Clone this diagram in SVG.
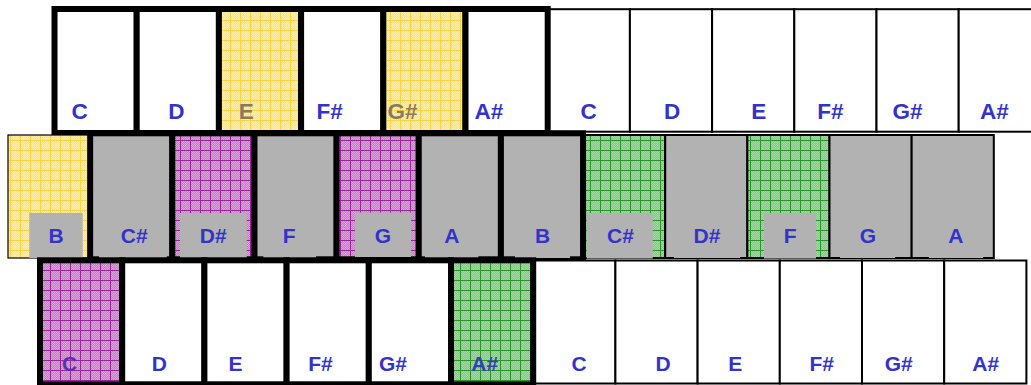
<svg xmlns="http://www.w3.org/2000/svg" width="1031" height="385" viewBox="0 0 1031 385">
<style>
.thk{stroke:#000;stroke-width:6}
.thn{stroke:#000;stroke-width:2}
.w{fill:#fff}
.g{fill:#b2b2b2}
.y{fill:url(#pY)}
.p{fill:url(#pP)}
.gr{fill:url(#pG)}
.lb{fill:#b2b2b2}
.t{font-family:"Liberation Sans",Arial,sans-serif;font-weight:bold;fill:#3333cc;text-anchor:middle}
.t1{font-size:22.5px}
.t2{font-size:21px}
</style>
<defs>
<pattern id="dY" width="2" height="2" patternUnits="userSpaceOnUse"><rect width="2" height="2" fill="#ffe383"/><rect width="1" height="1" fill="#ffeeaa"/><rect x="1" y="1" width="1" height="1" fill="#ffeeaa"/></pattern>
<pattern id="dP" width="2" height="2" patternUnits="userSpaceOnUse"><rect width="2" height="2" fill="#c680c6"/><rect width="1" height="1" fill="#d8a2d8"/><rect x="1" y="1" width="1" height="1" fill="#d8a2d8"/></pattern>
<pattern id="dG" width="2" height="2" patternUnits="userSpaceOnUse"><rect width="2" height="2" fill="#86c886"/><rect width="1" height="1" fill="#a2d8a2"/><rect x="1" y="1" width="1" height="1" fill="#a2d8a2"/></pattern>
<pattern id="pY" width="10" height="10" patternUnits="userSpaceOnUse"><rect width="10" height="10" fill="url(#dY)"/><path d="M0.5 0V10M0 0.5H10" stroke="#ffd443" stroke-width="1"/></pattern>
<pattern id="pP" width="10" height="10" patternUnits="userSpaceOnUse"><rect width="10" height="10" fill="url(#dP)"/><path d="M0.5 0V10M0 0.5H10" stroke="#9a249a" stroke-width="1"/></pattern>
<pattern id="pG" width="10" height="10" patternUnits="userSpaceOnUse"><rect width="10" height="10" fill="url(#dG)"/><path d="M0.5 0V10M0 0.5H10" stroke="#2a942a" stroke-width="1"/></pattern>
</defs>
<rect width="1031" height="385" fill="#fff"/>

<g id="row-top">
<g id="top-C2"><rect class="thn w" x="547.7" y="9.2" width="82.2" height="122.5"/><text class="t t1" x="588.7" y="119.3">C</text></g>
<g id="top-D2"><rect class="thn w" x="629.9" y="9.2" width="82.2" height="122.5"/><text class="t t1" x="672" y="119.3">D</text></g>
<g id="top-E2"><rect class="thn w" x="712.1" y="9.2" width="82.2" height="122.5"/><text class="t t1" x="758.8" y="119.3">E</text></g>
<g id="top-Fs2"><rect class="thn w" x="794.3" y="9.2" width="82.2" height="122.5"/><text class="t t1" x="830.3" y="119.3">F#</text></g>
<g id="top-Gs2"><rect class="thn w" x="876.5" y="9.2" width="82.2" height="122.5"/><text class="t t1" x="907.5" y="119.3">G#</text></g>
<g id="top-As2"><rect class="thn w" x="958.7" y="9.2" width="82.2" height="122.5"/><text class="t t1" x="994.3" y="119.3">A#</text></g>
<g id="top-C1"><rect class="thk w" x="54.5" y="9" width="82.2" height="124"/><text class="t t1" x="79.5" y="119.3">C</text></g>
<g id="top-D1"><rect class="thk w" x="136.7" y="9" width="82.2" height="124"/><text class="t t1" x="176.3" y="119.3">D</text></g>
<g id="top-E1"><rect class="thk y" x="218.9" y="9" width="82.2" height="124"/><text class="t t1" x="246.3" y="119.3" style="fill:#8a7a5c">E</text></g>
<g id="top-Fs1"><rect class="thk w" x="301.1" y="9" width="82.2" height="124"/><text class="t t1" x="329.7" y="119.3">F#</text></g>
<g id="top-Gs1"><rect class="thk y" x="383.3" y="9" width="82.2" height="124"/><text class="t t1" x="402.5" y="119.3" style="fill:#8a7a5c">G#</text></g>
<g id="top-As1"><rect class="thk w" x="465.5" y="9" width="82.2" height="124"/><text class="t t1" x="488.8" y="119.3">A#</text></g>
</g>

<g id="row-middle">
<g id="mid-B1"><rect class="thn y" x="8" y="135" width="82.15" height="123" style="stroke-width:1.2"/><rect class="lb" x="29.3" y="213" width="53.4" height="45"/><text class="t t2" x="56" y="243">B</text></g>
<g id="mid-Cs2"><rect class="thn gr" x="583.05" y="135" width="82.15" height="123"/><rect class="lb" x="586.7" y="213" width="66" height="45.5"/><text class="t t2" x="620.5" y="243">C#</text></g>
<g id="mid-Ds2"><rect class="thn g" x="665.2" y="135" width="82.15" height="123"/><rect class="lb" x="674" y="213" width="66" height="45"/><text class="t t2" x="707" y="243">D#</text></g>
<g id="mid-F2"><rect class="thn gr" x="747.35" y="135" width="82.15" height="123"/><rect class="lb" x="764" y="213" width="52" height="45.5"/><text class="t t2" x="790.2" y="243">F</text></g>
<g id="mid-G2"><rect class="thn g" x="829.5" y="135" width="82.15" height="123"/><rect class="lb" x="840" y="213" width="55" height="45"/><text class="t t2" x="867.8" y="243">G</text></g>
<g id="mid-A2"><rect class="thn g" x="911.65" y="135" width="82.15" height="123"/><rect class="lb" x="929" y="213" width="54" height="45"/><text class="t t2" x="955.8" y="243">A</text></g>
<g id="mid-Cs1"><rect class="thk g" x="90.15" y="133.3" width="82.15" height="126"/><rect class="lb" x="99" y="213" width="67.7" height="45"/><text class="t t2" x="134.2" y="243">C#</text></g>
<g id="mid-Ds1"><rect class="thk p" x="172.3" y="133.3" width="82.15" height="126"/><rect class="lb" x="180" y="213" width="66.7" height="45"/><text class="t t2" x="213.3" y="243">D#</text></g>
<g id="mid-F1"><rect class="thk g" x="254.45" y="133.3" width="82.15" height="126"/><rect class="lb" x="263.3" y="213" width="52.7" height="45"/><text class="t t2" x="289.2" y="243">F</text></g>
<g id="mid-G1"><rect class="thk p" x="336.6" y="133.3" width="82.15" height="126"/><rect class="lb" x="355" y="212.5" width="56" height="44.5"/><text class="t t2" x="382.8" y="243">G</text></g>
<g id="mid-A1"><rect class="thk g" x="418.75" y="133.3" width="82.15" height="126"/><rect class="lb" x="425" y="213" width="53.3" height="45"/><text class="t t2" x="451.8" y="243">A</text></g>
<g id="mid-B2"><rect class="thk g" x="500.9" y="133.3" width="82.15" height="126"/><rect class="lb" x="515" y="213" width="55" height="45"/><text class="t t2" x="542.7" y="243">B</text></g>
</g>

<g id="row-bottom">
<g id="bot-C2"><rect class="thn w" x="533.2" y="260.5" width="82.2" height="123"/><text class="t t2" x="579.2" y="370.7">C</text></g>
<g id="bot-D2"><rect class="thn w" x="615.4" y="260.5" width="82.2" height="123"/><text class="t t2" x="663" y="370.7">D</text></g>
<g id="bot-E2"><rect class="thn w" x="697.6" y="260.5" width="82.2" height="123"/><text class="t t2" x="735.2" y="370.7">E</text></g>
<g id="bot-Fs2"><rect class="thn w" x="779.8" y="260.5" width="82.2" height="123"/><text class="t t2" x="821.7" y="370.7">F#</text></g>
<g id="bot-Gs2"><rect class="thn w" x="862" y="260.5" width="82.2" height="123"/><text class="t t2" x="898.7" y="370.7">G#</text></g>
<g id="bot-As2"><rect class="thn w" x="944.2" y="260.5" width="82.2" height="123"/><text class="t t2" x="985.8" y="370.7">A#</text></g>
<g id="bot-C1"><rect class="thk p" x="40" y="260.3" width="82.2" height="124"/><text class="t t2" x="69.7" y="370.7" style="fill:#5a2fb4">C</text></g>
<g id="bot-D1"><rect class="thk w" x="122.2" y="260.3" width="82.2" height="124"/><text class="t t2" x="159.3" y="370.7">D</text></g>
<g id="bot-E1"><rect class="thk w" x="204.4" y="260.3" width="82.2" height="124"/><text class="t t2" x="235.5" y="370.7">E</text></g>
<g id="bot-Fs1"><rect class="thk w" x="286.6" y="260.3" width="82.2" height="124"/><text class="t t2" x="320.5" y="370.7">F#</text></g>
<g id="bot-Gs1"><rect class="thk w" x="368.8" y="260.3" width="82.2" height="124"/><text class="t t2" x="393" y="370.7">G#</text></g>
<g id="bot-As1"><rect class="thk gr" x="451" y="260.3" width="82.2" height="124"/><text class="t t2" x="484.7" y="370.7" style="fill:#3340b8">A#</text></g>
</g>

<g id="connectors"/>
</svg>
